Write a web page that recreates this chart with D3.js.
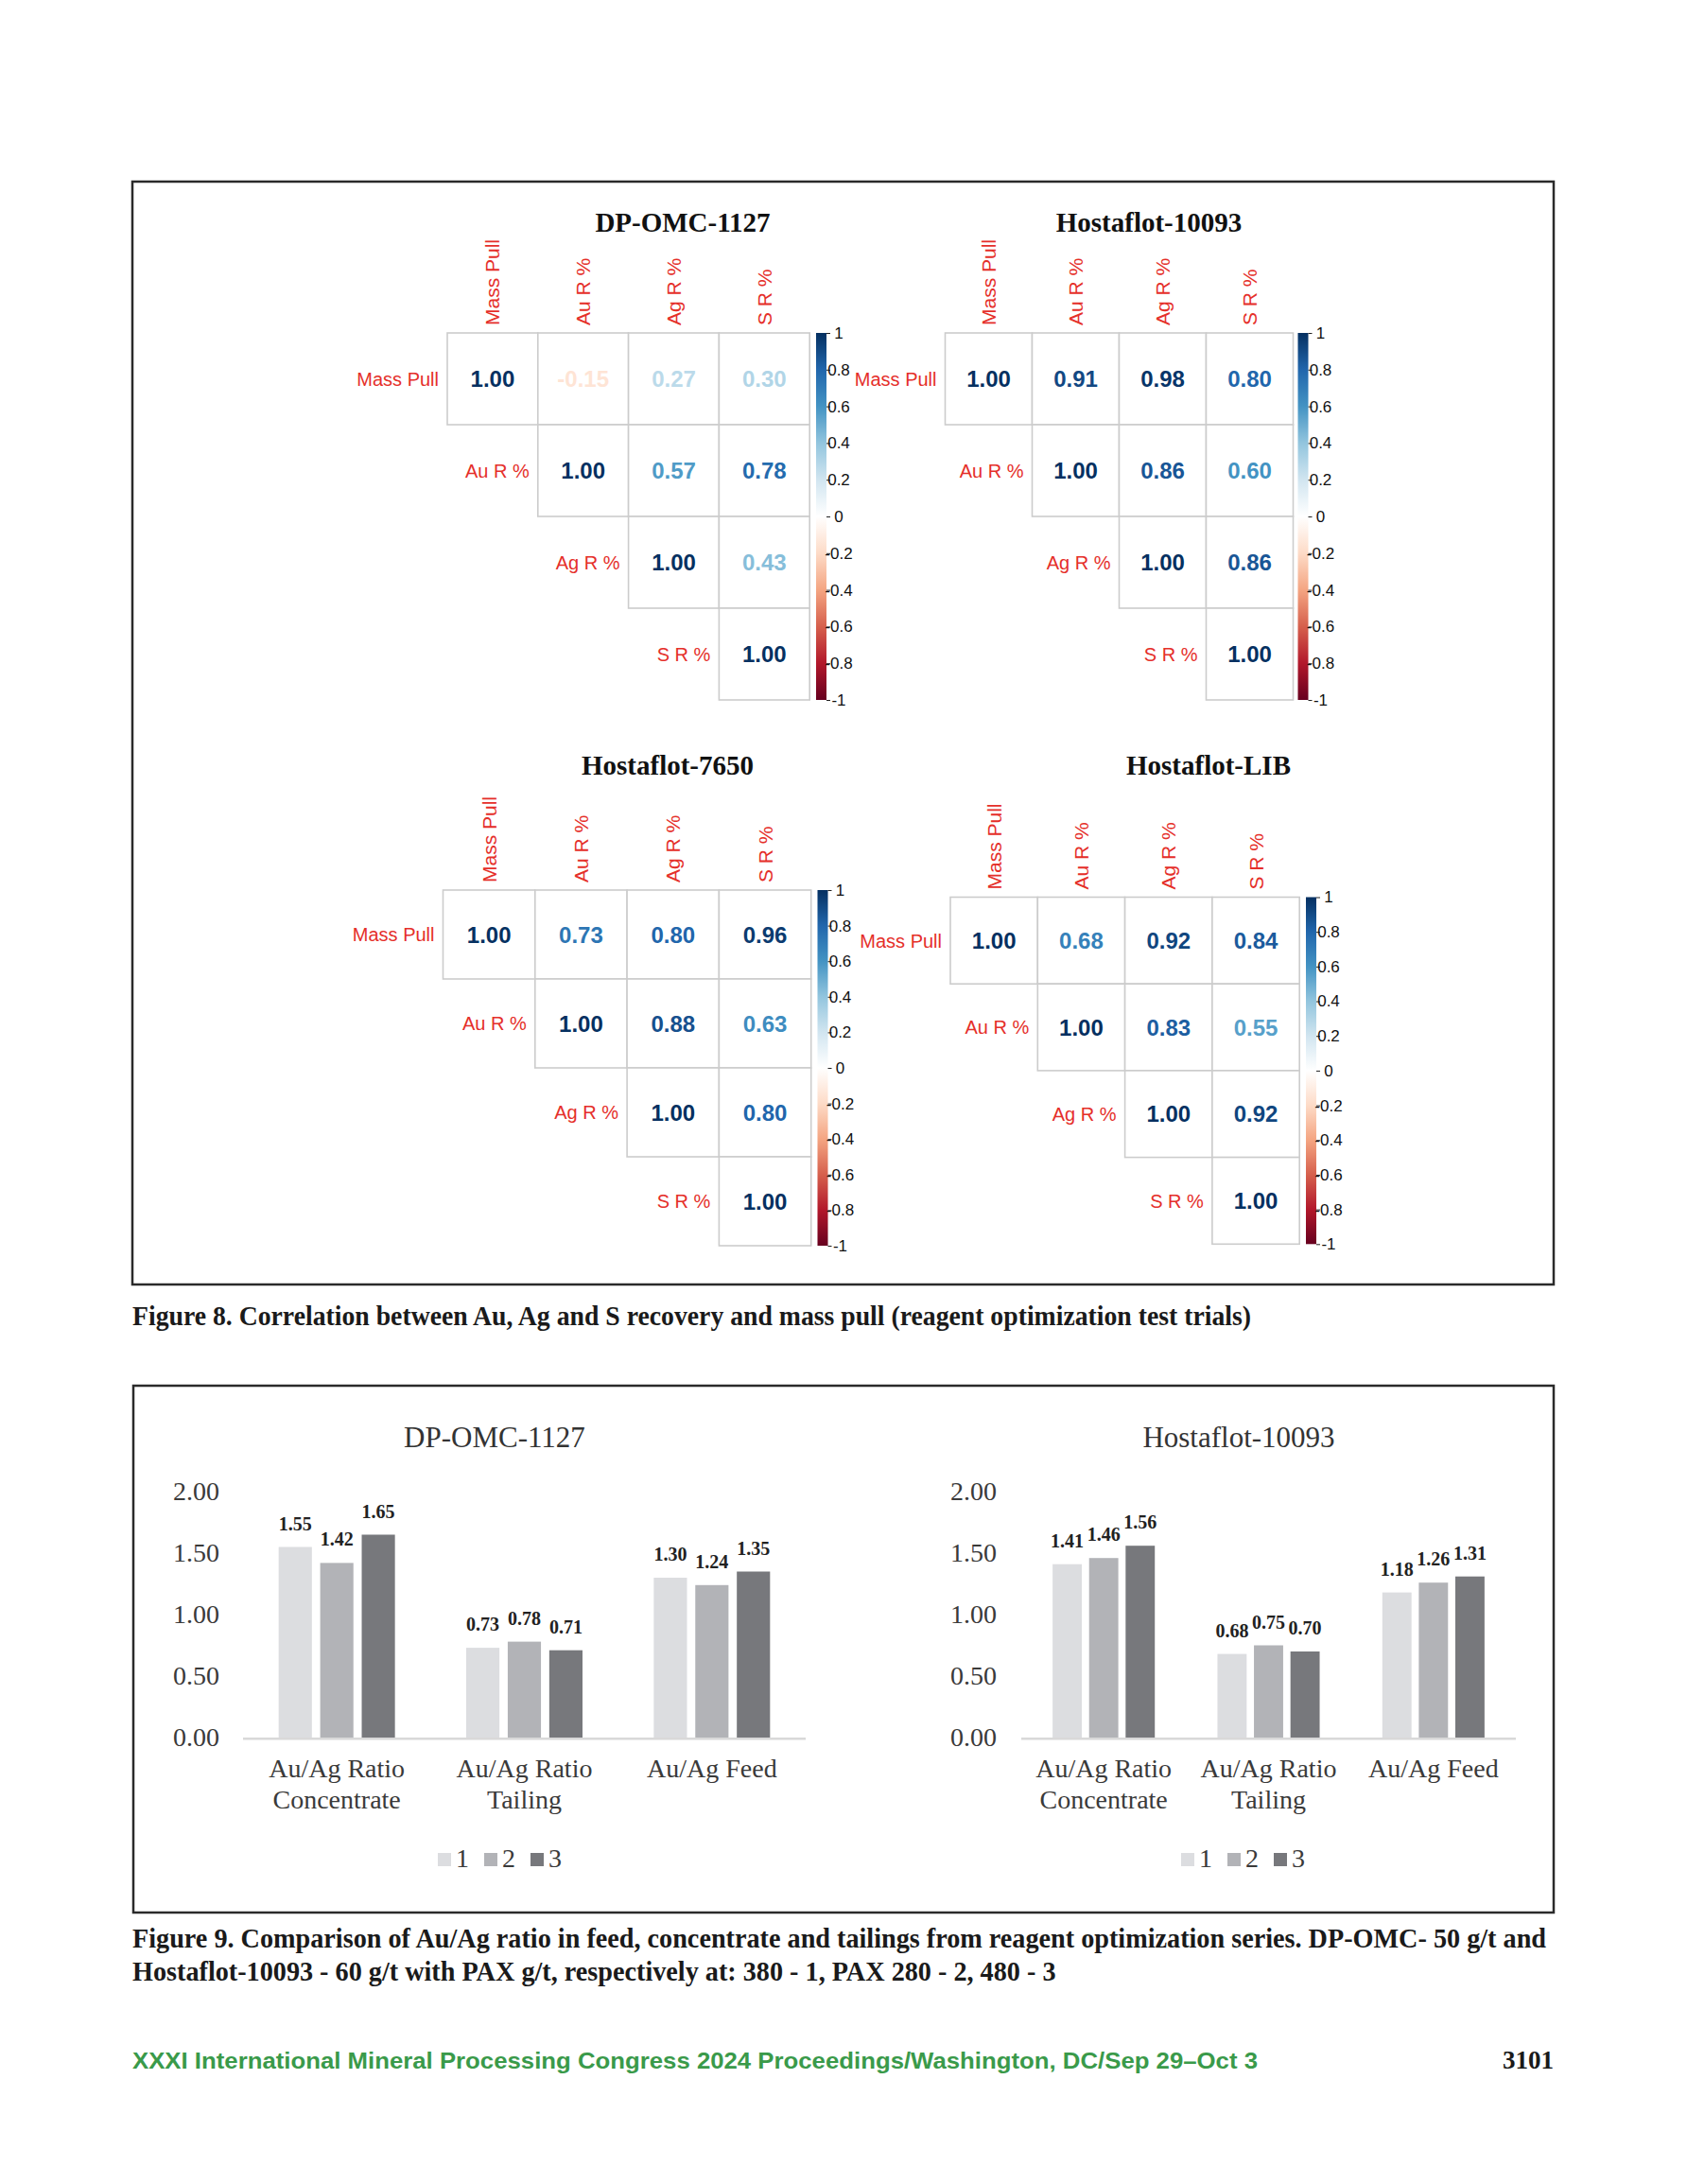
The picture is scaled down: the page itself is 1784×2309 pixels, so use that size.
<!DOCTYPE html>
<html>
<head>
<meta charset="utf-8">
<script src="https://cdn.jsdelivr.net/npm/d3@7"></script>
<style>
  body { margin: 0; background: #fff; }
  svg { display: block; }
</style>
</head>
<body>
<div id="chart"></div>
<script>
// ---- data ----
const corrVars = ['Mass Pull', 'Au R %', 'Ag R %', 'S R %'];
const corrTitles = ['DP-OMC-1127', 'Hostaflot-10093', 'Hostaflot-7650', 'Hostaflot-LIB'];
// upper triangle only, row by row
const corrDpOmc1127 = [[1.00, -0.15, 0.27, 0.30], [1.00, 0.57, 0.78], [1.00, 0.43], [1.00]];
const corrHosta10093 = [[1.00, 0.91, 0.98, 0.80], [1.00, 0.86, 0.60], [1.00, 0.86], [1.00]];
const corrHosta7650 = [[1.00, 0.73, 0.80, 0.96], [1.00, 0.88, 0.63], [1.00, 0.80], [1.00]];
const corrHostaLIB = [[1.00, 0.68, 0.92, 0.84], [1.00, 0.83, 0.55], [1.00, 0.92], [1.00]];
const colorbarTicks = [1, 0.8, 0.6, 0.4, 0.2, 0, -0.2, -0.4, -0.6, -0.8, -1];

const barTitles = ['DP-OMC-1127', 'Hostaflot-10093'];
const barCategories = [['Au/Ag Ratio', 'Concentrate'], ['Au/Ag Ratio', 'Tailing'], ['Au/Ag Feed']];
const barSeries = ['1', '2', '3'];
const barDpOmc1127 = [[1.55, 1.42, 1.65], [0.73, 0.78, 0.71], [1.30, 1.24, 1.35]];
const barHosta10093 = [[1.41, 1.46, 1.56], [0.68, 0.75, 0.70], [1.18, 1.26, 1.31]];
const yTicks = [0, 0.5, 1, 1.5, 2];

const caption8 = 'Figure 8. Correlation between Au, Ag and S recovery and mass pull (reagent optimization test trials)';
const caption9 = ['Figure 9. Comparison of Au/Ag ratio in feed, concentrate and tailings from reagent optimization series. DP-OMC- 50 g/t and',
  'Hostaflot-10093 - 60 g/t with PAX g/t, respectively at: 380 - 1, PAX 280 - 2, 480 - 3'];
const footer = 'XXXI International Mineral Processing Congress 2024 Proceedings/Washington, DC/Sep 29–Oct 3';
const pageNo = '3101';

// ---- setup ----
const W = 1784, H = 2309;
const SERIF = '"Liberation Serif", "Times New Roman", serif';
const SANS = '"Liberation Sans", Arial, sans-serif';
const RED = '#e52f2a';

const svg = d3.select('#chart').append('svg').attr('width', W).attr('height', H);
svg.append('rect').attr('width', W).attr('height', H).attr('fill', '#fff');

// corrplot RdBu palette
const rdbu = ['#67001F', '#B2182B', '#D6604D', '#F4A582', '#FDDBC7', '#FFFFFF',
  '#D1E5F0', '#92C5DE', '#4393C3', '#2166AC', '#053061'];
const corrColor = d3.scaleLinear()
  .domain(d3.range(rdbu.length).map(i => -1 + i * 2 / (rdbu.length - 1)))
  .range(rdbu);

const defs = svg.append('defs');
const grad = defs.append('linearGradient').attr('id', 'cbar')
  .attr('x1', 0).attr('y1', 0).attr('x2', 0).attr('y2', 1);
rdbu.slice().reverse().forEach((c, i) => {
  grad.append('stop').attr('offset', i / (rdbu.length - 1)).attr('stop-color', c);
});

// figure frames
svg.append('rect').attr('x', 140).attr('y', 192).attr('width', 1503).attr('height', 1166)
  .attr('fill', 'none').attr('stroke', '#2a2a2a').attr('stroke-width', 2.5);
svg.append('rect').attr('x', 141).attr('y', 1465).attr('width', 1502).attr('height', 557)
  .attr('fill', 'none').attr('stroke', '#2a2a2a').attr('stroke-width', 2.5);

// ---- correlation panels ----
const corrData = [corrDpOmc1127, corrHosta10093, corrHosta7650, corrHostaLIB];
const corrPanels = [
  { x0: 473, y0: 352, cw: 95.8, ch: 97, tx: 722, ty: 245, cbx: 863 },
  { x0: 999.5, y0: 352, cw: 92, ch: 97, tx: 1215, ty: 245, cbx: 1372.5 },
  { x0: 468.5, y0: 941, cw: 97.3, ch: 94, tx: 706, ty: 819, cbx: 864.5 },
  { x0: 1005, y0: 948.5, cw: 92.3, ch: 91.7, tx: 1278, ty: 819, cbx: 1381 }
];

corrPanels.forEach((p, k) => {
  const g = svg.append('g');
  const x = d3.scaleBand().domain(corrVars).range([p.x0, p.x0 + 4 * p.cw]);
  const y = d3.scaleBand().domain(corrVars).range([p.y0, p.y0 + 4 * p.ch]);

  const cells = [];
  corrData[k].forEach((row, i) => {
    row.forEach((v, j) => cells.push({ r: corrVars[i], c: corrVars[i + j], v: v }));
  });

  g.append('text')
    .attr('x', p.tx).attr('y', p.ty)
    .attr('text-anchor', 'middle')
    .style('font-family', SERIF).style('font-weight', 'bold').style('font-size', '29px')
    .attr('fill', '#111')
    .text(corrTitles[k]);

  g.selectAll('rect.cell').data(cells).enter().append('rect')
    .attr('class', 'cell')
    .attr('x', d => x(d.c)).attr('y', d => y(d.r))
    .attr('width', x.bandwidth()).attr('height', y.bandwidth())
    .attr('fill', '#fff').attr('stroke', '#cccccc').attr('stroke-width', 1.6);

  g.selectAll('text.num').data(cells).enter().append('text')
    .attr('class', 'num')
    .attr('x', d => x(d.c) + x.bandwidth() / 2)
    .attr('y', d => y(d.r) + y.bandwidth() / 2)
    .attr('dy', '0.36em')
    .attr('text-anchor', 'middle')
    .style('font-family', SANS).style('font-weight', 'bold').style('font-size', '24px')
    .attr('fill', d => corrColor(d.v))
    .text(d => d.v.toFixed(2));

  // column labels (rotated)
  g.selectAll('text.col').data(corrVars).enter().append('text')
    .attr('class', 'col')
    .attr('transform', d => `translate(${x(d) + x.bandwidth() / 2},${p.y0 - 8}) rotate(-90)`)
    .attr('dy', '0.36em')
    .style('font-family', SANS).style('font-size', '21px')
    .attr('fill', RED)
    .text(d => d);

  // row labels, left of the diagonal cell
  g.selectAll('text.row').data(corrVars).enter().append('text')
    .attr('class', 'row')
    .attr('x', d => x(d) - 9)
    .attr('y', d => y(d) + y.bandwidth() / 2)
    .attr('dy', '0.36em')
    .attr('text-anchor', 'end')
    .style('font-family', SANS).style('font-size', '20px')
    .attr('fill', RED)
    .text(d => d);

  // colour bar
  const cb = d3.scaleLinear().domain([1, -1]).range([p.y0, p.y0 + 4 * p.ch]);
  g.append('rect')
    .attr('x', p.cbx).attr('y', cb(1))
    .attr('width', 11).attr('height', cb(-1) - cb(1))
    .attr('fill', 'url(#cbar)');
  const ax = g.append('g')
    .attr('transform', `translate(${p.cbx + 11},0)`)
    .call(d3.axisRight(cb).tickValues(colorbarTicks).tickSize(4).tickPadding(1)
      .tickFormat(d => String(d)));
  ax.select('.domain').remove();
  ax.selectAll('line').attr('stroke', '#222');
  ax.selectAll('text')
    .attr('x', 13).attr('text-anchor', 'middle')
    .style('font-family', SANS).style('font-size', '17px').attr('fill', '#111');
});

// ---- bar charts ----
const barData = [barDpOmc1127, barHosta10093];
const barPanels = [
  { left: 257, right: 852, labelX: 232, tx: 523, legendX: 463 },
  { left: 1080, right: 1603, labelX: 1054, tx: 1310, legendX: 1249 }
];
const barColors = d3.scaleOrdinal().domain(barSeries).range(['#dcdde0', '#b2b3b7', '#77787c']);
const yBar = d3.scaleLinear().domain([0, 2]).range([1837, 1577]);

barPanels.forEach((p, k) => {
  const g = svg.append('g');
  const x0 = d3.scaleBand().domain(d3.range(barCategories.length))
    .range([p.left, p.right]).paddingInner(0.38).paddingOuter(0.19);
  const x1 = d3.scaleBand().domain(barSeries).range([0, x0.bandwidth()]).paddingInner(0.2);

  g.append('text')
    .attr('x', p.tx).attr('y', 1530)
    .attr('text-anchor', 'middle')
    .style('font-family', SERIF).style('font-size', '31px').attr('fill', '#333')
    .text(barTitles[k]);

  const yAx = g.append('g')
    .attr('transform', `translate(${p.labelX},0)`)
    .call(d3.axisLeft(yBar).tickValues(yTicks).tickSize(0).tickPadding(0)
      .tickFormat(d3.format('.2f')));
  yAx.select('.domain').remove();
  yAx.selectAll('text')
    .style('font-family', SERIF).style('font-size', '28px').attr('fill', '#3a3a3a');

  const groups = g.selectAll('g.grp').data(barData[k]).enter().append('g')
    .attr('class', 'grp')
    .attr('transform', (d, i) => `translate(${x0(i)},0)`);

  groups.selectAll('rect').data(d => d.map((v, j) => ({ s: barSeries[j], v: v })))
    .enter().append('rect')
    .attr('x', d => x1(d.s)).attr('y', d => yBar(d.v))
    .attr('width', x1.bandwidth()).attr('height', d => yBar(0) - yBar(d.v))
    .attr('fill', d => barColors(d.s));

  groups.selectAll('text').data(d => d.map((v, j) => ({ s: barSeries[j], v: v })))
    .enter().append('text')
    .attr('x', d => x1(d.s) + x1.bandwidth() / 2)
    .attr('y', d => yBar(d.v) - 18)
    .attr('text-anchor', 'middle')
    .style('font-family', SERIF).style('font-weight', 'bold').style('font-size', '20px')
    .attr('fill', '#222')
    .text(d => d.v.toFixed(2));

  // baseline axis
  g.append('line')
    .attr('x1', p.left).attr('x2', p.right)
    .attr('y1', yBar(0) + 1.3).attr('y2', yBar(0) + 1.3)
    .attr('stroke', '#d9d9d9').attr('stroke-width', 2.6);

  // category labels
  const cat = g.selectAll('text.cat').data(barCategories).enter().append('text')
    .attr('class', 'cat')
    .attr('text-anchor', 'middle')
    .style('font-family', SERIF).style('font-size', '28px').attr('fill', '#3a3a3a');
  cat.selectAll('tspan').data((d, i) => d.map(t => ({ t: t, i: i }))).enter().append('tspan')
    .attr('x', d => x0(d.i) + x0.bandwidth() / 2)
    .attr('y', (d, j) => 1879 + j * 33)
    .text(d => d.t);

  // legend
  const lg = g.selectAll('g.leg').data(barSeries).enter().append('g')
    .attr('class', 'leg')
    .attr('transform', (d, i) => `translate(${p.legendX + i * 49},0)`);
  lg.append('rect').attr('x', 0).attr('y', 1959).attr('width', 14).attr('height', 14)
    .attr('fill', d => barColors(d));
  lg.append('text').attr('x', 19).attr('y', 1974)
    .style('font-family', SERIF).style('font-size', '28px').attr('fill', '#3a3a3a')
    .text(d => d);
});

// ---- captions and footer ----
svg.append('text')
  .attr('x', 140).attr('y', 1401)
  .style('font-family', SERIF).style('font-weight', 'bold').style('font-size', '29px')
  .attr('fill', '#1a1a1a')
  .attr('textLength', 1183).attr('lengthAdjust', 'spacingAndGlyphs')
  .text(caption8);

const cap9 = svg.selectAll('text.cap9').data(caption9).enter().append('text')
  .attr('class', 'cap9')
  .attr('x', 140).attr('y', (d, i) => 2059 + i * 35)
  .style('font-family', SERIF).style('font-weight', 'bold').style('font-size', '29px')
  .attr('fill', '#1a1a1a')
  .text(d => d);
// squeeze both lines by the same factor as the first one
const nat = cap9.nodes().map(n => n.getComputedTextLength());
const squeeze = 1495 / nat[0];
cap9.attr('textLength', (d, i) => nat[i] * squeeze).attr('lengthAdjust', 'spacingAndGlyphs');

svg.append('text')
  .attr('x', 140).attr('y', 2187)
  .style('font-family', SANS).style('font-weight', 'bold').style('font-size', '24px')
  .attr('fill', '#3a9a4a')
  .attr('textLength', 1190).attr('lengthAdjust', 'spacingAndGlyphs')
  .text(footer);

svg.append('text')
  .attr('x', 1643).attr('y', 2187)
  .attr('text-anchor', 'end')
  .style('font-family', SERIF).style('font-weight', 'bold').style('font-size', '27px')
  .attr('fill', '#1a1a1a')
  .text(pageNo);
</script>
</body>
</html>
